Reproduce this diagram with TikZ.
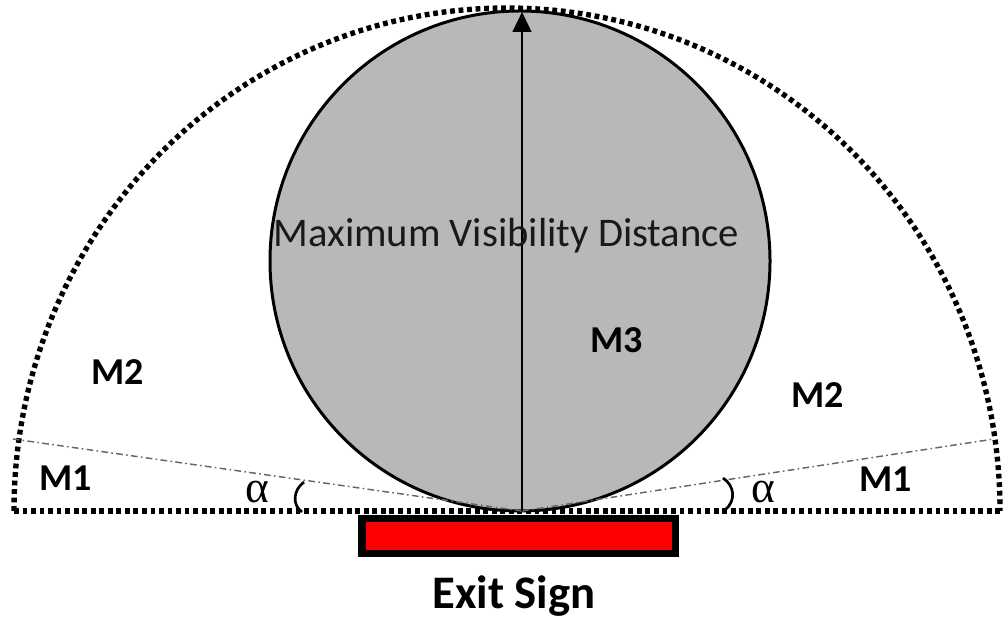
\documentclass[tikz,border=0pt]{standalone}
\usepackage{fontspec}
\setmainfont{Carlito}
\newfontfamily\alphafont{Liberation Serif}
\usetikzlibrary{arrows.meta}
\begin{document}
\begin{tikzpicture}[x=0.75pt,y=0.75pt,
  dotline/.style={line width=4pt, dash pattern=on 3.6pt off 2.8pt},
  dashdot/.style={line width=1.1pt, black!60, dash pattern=on 5pt off 2.5pt on 1.2pt off 2.5pt},
  lbl/.style={font=\fontsize{28.5}{28.5}\selectfont\bfseries, anchor=base, inner sep=0pt},
  alph/.style={font=\alphafont\fontsize{34}{34}\selectfont, anchor=base, inner sep=0pt},
  paren/.style={line width=2pt}]
\useasboundingbox (0,0) rectangle (1005,621);
\coordinate (V) at (522,110);
\coordinate (T) at (522,609);
\coordinate (L) at (13,182);
\coordinate (R) at (994,182);
\coordinate (BL) at (14,110);
\coordinate (BR) at (1000,110);
% outer dotted semicircle and base line
\draw[dotline] (BL) arc[start angle=180,end angle=0,x radius=369.75pt,y radius=377.25pt];
\draw[dotline] (BL) -- (BR);
% circle
\node[circle, draw, line width=2.25pt, fill=black!28, minimum size=375pt, inner sep=0pt] (C) at (520,360) {};
% dash-dot boundaries
\draw[dashdot] (V) -- (L);
\draw[dashdot] (V) -- (R);
% arrow
\draw[-{Triangle[length=15pt,width=14pt]}, line width=1.9pt] (V) -- (T);
% text
\node[font=\fontsize{30.5}{30.5}\selectfont, anchor=base, inner sep=0pt, text=black!90] (mvd) at (506.5,374) {Maximum Visibility Distance};
\node[lbl] (m3) at (617,268) {M3};
\node[lbl] (m2l) at (118,236) {M2};
\node[lbl] (m2r) at (818,214) {M2};
\node[lbl] (m1l) at (66,131) {M1};
\node[lbl] (m1r) at (886,130) {M1};
\node[alph] (al) at (257,119) {α};
\node[alph] (ar) at (763,119) {α};
\draw[paren] (304,139) .. controls (293,131) and (292,116) .. (302,109);
\draw[paren] (723,143) .. controls (735,135) and (736,120) .. (725,111);
% exit sign
\node[draw, line width=5.6pt, fill=red, minimum width=235.1pt, minimum height=25.9pt, inner sep=0pt] (sign) at (518.5,85) {};
\node[font=\fontsize{35}{35}\selectfont\bfseries, anchor=base, inner sep=0pt] (exit) at (514,13) {Exit Sign};
\end{tikzpicture}
\end{document}
